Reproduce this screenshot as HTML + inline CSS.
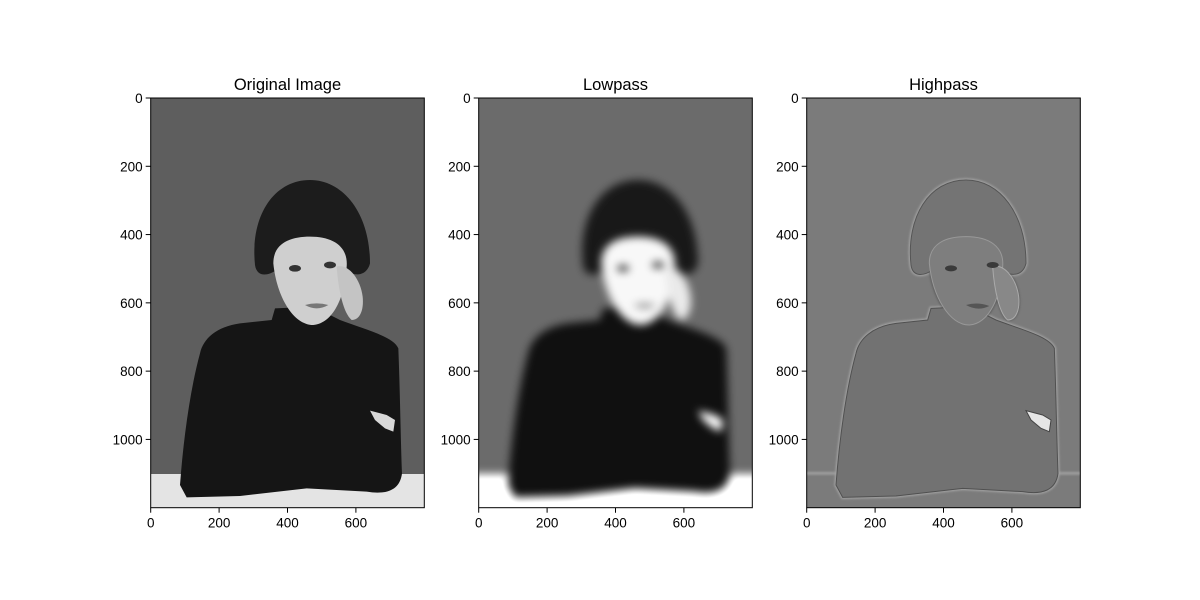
<!DOCTYPE html>
<html><head><meta charset="utf-8"><style>
body{margin:0;background:#fff;}
svg{display:block;font-family:"Liberation Sans","DejaVu Sans",sans-serif;}
</style></head><body>
<svg id="fig" width="1200" height="600" viewBox="0 0 1200 600">
<defs>
 <filter id="low" x="-20%" y="-20%" width="140%" height="140%" color-interpolation-filters="sRGB">
  <feGaussianBlur stdDeviation="13" edgeMode="duplicate"/>
  <feComponentTransfer>
   <feFuncR type="linear" slope="1.25" intercept="-0.04"/>
   <feFuncG type="linear" slope="1.25" intercept="-0.04"/>
   <feFuncB type="linear" slope="1.25" intercept="-0.04"/>
  </feComponentTransfer>
 </filter>
 <filter id="soft" x="-20%" y="-20%" width="140%" height="140%">
  <feGaussianBlur stdDeviation="3"/>
 </filter>
 <path id="body" d="M120,1185 C130,1050 150,900 180,790 C190,745 230,710 300,700 L395,690 L405,655 L520,650 L600,690 C680,720 760,740 775,775 C780,900 782,1050 786,1150 C780,1200 740,1215 680,1205 L500,1195 L300,1218 L140,1222 Z"/>
 <path id="hair" d="M345,525 C330,380 400,270 510,270 C610,270 690,370 690,520 C680,560 640,560 620,540 L410,540 C380,560 350,560 345,525 Z"/>
 <path id="face" d="M400,520 C400,460 450,440 510,440 C580,440 625,470 620,530 C615,620 580,700 520,705 C460,705 410,620 400,520 Z"/>
 <path id="hand" d="M590,530 C620,520 660,560 668,620 C672,660 660,690 635,690 C610,670 595,600 590,530 Z"/>
 <path id="hand2" d="M690,962 L740,975 L765,990 L760,1025 L735,1015 L705,990 Z"/>
 <g id="scene">
  <rect x="-60" y="-60" width="1020" height="1380" fill="#5e5e5e"/>
  <rect x="-60" y="1152" width="1020" height="170" fill="#e4e4e4"/>
  <use href="#body" fill="#151515"/>
  <use href="#hair" fill="#1c1c1c"/>
  <use href="#face" fill="#cfcfcf"/>
  <use href="#hand" fill="#c4c4c4"/>
  <ellipse cx="465" cy="535" rx="18" ry="10" fill="#333"/>
  <ellipse cx="570" cy="525" rx="18" ry="10" fill="#333"/>
  <path d="M495,645 Q530,635 565,645 Q530,665 495,645 Z" fill="#777"/>
  <use href="#hand2" fill="#d8d8d8"/>
 </g>
 <g id="hpscene">
  <rect x="-60" y="-60" width="1020" height="1380" fill="#7b7b7b"/>
  <g filter="url(#soft)" fill="none">
   <line x1="0" y1="1150" x2="900" y2="1150" stroke="#a0a0a0" stroke-width="8"/>
   <use href="#body" stroke="#a4a4a4" stroke-width="10"/>
   <use href="#hair" stroke="#a4a4a4" stroke-width="10"/>
   <use href="#face" stroke="#5a5a5a" stroke-width="8"/>
   <use href="#hand" stroke="#5a5a5a" stroke-width="6"/>
  </g>
  <use href="#body" fill="#727272" stroke="#505050" stroke-width="3"/>
  <use href="#hair" fill="#747474" stroke="#555" stroke-width="3"/>
  <use href="#face" fill="#7e7e7e" stroke="#999" stroke-width="3"/>
  <use href="#hand" fill="#888" stroke="#aaa" stroke-width="3"/>
  <ellipse cx="465" cy="535" rx="18" ry="9" fill="#3a3a3a"/>
  <ellipse cx="590" cy="525" rx="18" ry="9" fill="#3a3a3a"/>
  <path d="M510,645 Q545,635 580,648 Q545,665 510,645 Z" fill="#555"/>
  <use href="#hand2" fill="#e6e6e6" stroke="#444" stroke-width="3"/>
 </g>
 <clipPath id="clip"><rect x="32" y="24" width="821" height="1229"/></clipPath>
</defs>
<g id="panels"></g>
</svg>
<script>
const titles = ["Original Image", "Lowpass", "Highpass"];
const xTicks = [0, 200, 400, 600];
const yTicks = [0, 200, 400, 600, 800, 1000];
const imgW = 800, imgH = 1200;
const ns = "http://www.w3.org/2000/svg";
const root = document.getElementById("panels");
const axL = 150.7, axT = 98, axW = 273.6, axH = 409.7, gap = 328;
function mk(tag, attrs, parent){const e=document.createElementNS(ns,tag);for(const k in attrs)e.setAttribute(k,attrs[k]);parent.appendChild(e);return e;}
titles.forEach((t, i) => {
  const x0 = axL + i*gap;
  const sx = v => x0 + v/imgW*axW;
  const sy = v => axT + v/imgH*axH;
  const g = mk("g", {}, root);
  
  
  const img = mk("g", {transform:`translate(${140+i*gap},90) scale(${1/3})`}, g);
  
  
  const inner = mk("g", {"clip-path":"url(#clip)"}, img);
  const u = mk("use", {href: i===2 ? "#hpscene" : "#scene"}, inner);
  if (i===1) u.setAttribute("filter","url(#low)");
  const fr = mk("rect", {x:x0, y:axT, width:axW, height:axH, fill:"none", stroke:"#000", "stroke-width":1}, g);
  
  
  const tt = mk("text", {x:x0+axW/2, y:90, "text-anchor":"middle", "font-size":16.5}, g);
  tt.textContent = t;
  
  
  xTicks.forEach(v => {
    const X = sx(v);
    mk("line", {x1:X, x2:X, y1:axT+axH, y2:axT+axH+5, stroke:"#000"}, g);
    const l = mk("text", {x:X, y:axT+axH+20, "text-anchor":"middle", "font-size":13.5}, g);
    l.textContent = v;
    
    
  });
  yTicks.forEach(v => {
    const Y = sy(v);
    mk("line", {x1:x0-5, x2:x0, y1:Y, y2:Y, stroke:"#000"}, g);
    const l = mk("text", {x:x0-8, y:Y+5, "text-anchor":"end", "font-size":13.5}, g);
    l.textContent = v;
    
    
  });
});
</script>
</body></html>
